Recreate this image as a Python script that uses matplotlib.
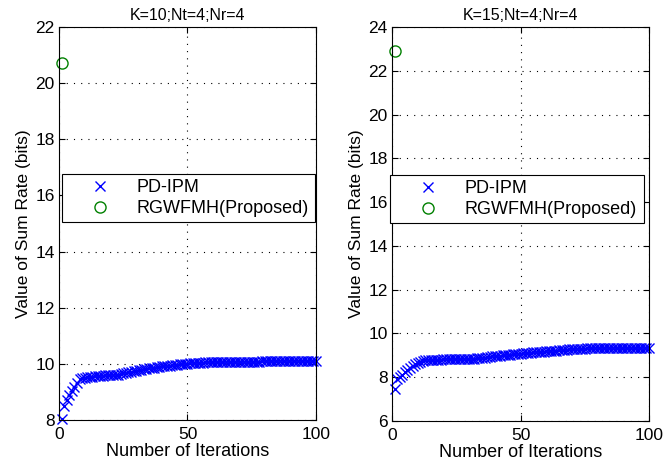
import numpy as np
import matplotlib
matplotlib.use('Agg')
import matplotlib.pyplot as plt

plt.rcParams['font.family'] = ['Liberation Sans', 'DejaVu Sans']

# iterations
iters = np.arange(1, 101)

# K=10 sum rate of PD-IPM
rate_k10 = [8.02, 8.50, 8.71, 8.89, 9.03, 9.19, 9.33, 9.45, 9.48, 9.50,
            9.52, 9.53, 9.55, 9.56, 9.57, 9.58, 9.58, 9.59, 9.59, 9.59,
            9.60, 9.61, 9.62, 9.64, 9.66, 9.68, 9.70, 9.72, 9.74, 9.76,
            9.77, 9.79, 9.81, 9.82, 9.84, 9.85, 9.87, 9.88, 9.89, 9.91,
            9.92, 9.93, 9.94, 9.95, 9.96, 9.97, 9.98, 9.99, 10.00, 10.01,
            10.02, 10.03, 10.03, 10.04, 10.04, 10.04, 10.05, 10.05, 10.05, 10.05,
            10.05, 10.05, 10.06, 10.06, 10.06, 10.06, 10.06, 10.07, 10.07, 10.07,
            10.07, 10.07, 10.08, 10.08, 10.08, 10.08, 10.08, 10.08, 10.09, 10.09,
            10.09, 10.09, 10.09, 10.09, 10.09, 10.09, 10.09, 10.10, 10.10, 10.10,
            10.10, 10.10, 10.10, 10.10, 10.10, 10.10, 10.10, 10.10, 10.10, 10.11]

# K=15 sum rate of PD-IPM
rate_k15 = [7.45, 7.92, 8.02, 8.12, 8.22, 8.32, 8.42, 8.52, 8.60, 8.66,
            8.71, 8.75, 8.77, 8.78, 8.79, 8.80, 8.80, 8.80, 8.80, 8.81,
            8.81, 8.81, 8.81, 8.81, 8.81, 8.81, 8.82, 8.82, 8.82, 8.83,
            8.84, 8.85, 8.86, 8.87, 8.89, 8.90, 8.92, 8.93, 8.95, 8.96,
            8.98, 8.99, 9.00, 9.01, 9.02, 9.03, 9.04, 9.06, 9.07, 9.08,
            9.09, 9.10, 9.11, 9.12, 9.13, 9.14, 9.15, 9.16, 9.17, 9.18,
            9.19, 9.20, 9.21, 9.22, 9.23, 9.24, 9.25, 9.26, 9.27, 9.28,
            9.29, 9.30, 9.30, 9.31, 9.31, 9.32, 9.32, 9.32, 9.32, 9.32,
            9.32, 9.32, 9.32, 9.32, 9.32, 9.32, 9.32, 9.32, 9.32, 9.32,
            9.32, 9.32, 9.32, 9.32, 9.32, 9.32, 9.32, 9.32, 9.32, 9.32]

# proposed method (single point at first iteration)
prop_iter = [1]
prop_k10 = [20.73]
prop_k15 = [22.92]

titles = ['K=10;Nt=4;Nr=4', 'K=15;Nt=4;Nr=4']
ylims = [(8, 22), (6, 24)]
rates = [rate_k10, rate_k15]
props = [prop_k10, prop_k15]
ax_pos = [[0.089, 0.1006, 0.3876, 0.8415], [0.5913, 0.0985, 0.3876, 0.8437]]
leg_box = [(0.012, 0.504, 0.984, 0.122), (-0.008, 0.5025, 0.988, 0.12)]

fig = plt.figure(figsize=(6.63, 4.67), dpi=100)
for k in range(2):
    ax = fig.add_axes(ax_pos[k])
    ax.plot(iters, rates[k], 'x', color=(0, 0, 1), markersize=7, mew=1.0,
            label='PD-IPM', clip_on=False)
    ax.plot(prop_iter, props[k], 'o', color=(0, 0.5, 0), mfc='none',
            markersize=8, mew=1.0, label='RGWFMH(Proposed)', clip_on=False)
    ax.set_xlim(0, 100)
    ax.set_ylim(*ylims[k])
    ax.set_xticks([0, 50, 100])
    ax.set_yticks(np.arange(ylims[k][0], ylims[k][1] + 1, 2))
    ax.grid(True, linestyle=(0, (1, 5.5)), color='k', linewidth=0.8)
    ax.tick_params(direction='in', top=True, right=True, labelsize=12.5, length=4)
    ax.tick_params(axis='x', pad=5)
    ax.tick_params(axis='y', pad=3)
    ax.set_title(titles[k], fontsize=11.5, pad=5)
    ax.set_xlabel('Number of Iterations', fontsize=13, labelpad=1)
    ax.set_ylabel('Value of Sum Rate (bits)', fontsize=12.5, labelpad=3)
    for s in ax.spines.values():
        s.set_linewidth(0.8)
    leg = ax.legend(loc='lower left', bbox_to_anchor=leg_box[k], mode='expand',
                    borderaxespad=0, fancybox=False, framealpha=1, edgecolor='k',
                    fontsize=13, handlelength=3.7, handletextpad=0.15,
                    labelspacing=0.25, borderpad=0.25)
    leg.get_frame().set_linewidth(0.8)

fig.savefig('out.png', dpi=100)
